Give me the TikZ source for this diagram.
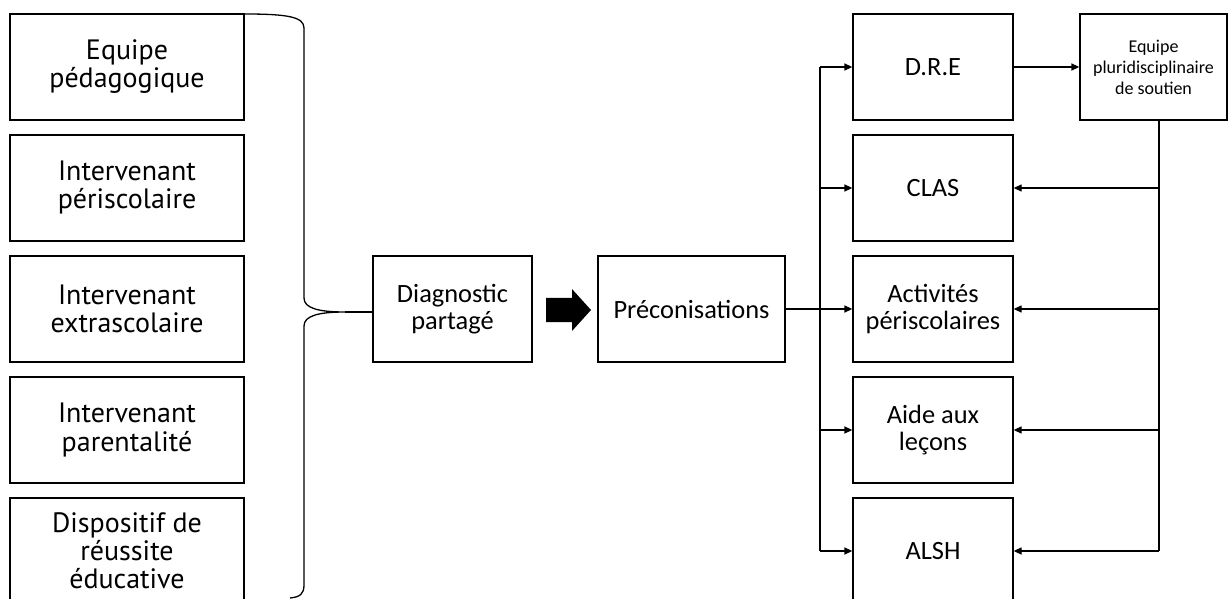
\documentclass[tikz,border=0pt]{standalone}
\usepackage{fontspec}
\setmainfont{Carlito}
\newfontfamily\leftfont{PT Sans}
\usetikzlibrary{arrows.meta}

\begin{document}
\begin{tikzpicture}[x=0.5pt,y=-0.5pt,
		line width=0.65pt,
		acteur/.style={draw, align=center, minimum width=117pt, minimum height=53pt,
			inner sep=0pt, font=\leftfont\fontsize{14}{14}\selectfont},
		etape/.style={draw, align=center, minimum height=53pt, inner sep=0pt,
			font=\fontsize{13.2}{13.5}\selectfont},
		action/.style={etape, minimum width=80pt},
		fleche/.style={-{Triangle[length=4pt,width=3.5pt]}}]
	\useasboundingbox (0,0) rectangle (1228,599);

	% acteurs
	\node[acteur] (equipe)     at (127,67)  {Equipe\\pédagogique};
	\node[acteur] (peri)       at (127,188) {Intervenant\\périscolaire};
	\node[acteur] (extra)      at (127,309) {Intervenant\\extrascolaire};
	\node[acteur] (parent)     at (127,430) {Intervenant\\parentalité};
	\node[acteur] (dispositif) at (127,551) {Dispositif de\\réussite\\éducative};

	% diagnostic et preconisations
	\node[etape, minimum width=79.5pt] (diag)   at (452.5,309) {Diagnostic\\partagé};
	\fill	(546,298) -- (572,298) -- (572,289) -- (591,310)
			-- (572,331) -- (572,322) -- (546,322) -- cycle;
	\node[etape, minimum width=93.5pt] (precon) at (691.5,309) {Préconisations};

	% accolade
	\coordinate (pointe) at (345,312);
	\draw	(245,14) .. controls (288,14) and (304,17) .. (304,28)
			-- (304,298) .. controls (304,308) and (318,312) .. (pointe)
			.. controls (318,312) and (304,316) .. (304,326)
			-- (304,585) .. controls (304,594) and (300,597) .. (290,598);
	\draw (pointe) -- (pointe -| diag.west);

	% actions
	\node[action] (dre)       at (933,67)  {D.R.E};
	\node[action] (clas)      at (933,188) {CLAS};
	\node[action] (activites) at (933,309) {Activités\\périscolaires};
	\node[action] (aide)      at (933,430) {Aide aux\\leçons};
	\node[action] (alsh)      at (933,551) {ALSH};

	\node[draw, align=center, minimum width=73.5pt, minimum height=53pt, inner sep=0pt,
		font=\fontsize{9}{10.5}\selectfont] (pluri) at (1153.5,67)
		{Equipe\\pluridisciplinaire\\de soutien};

	% vers les actions
	\coordinate (tronc) at (820,309);
	\draw (precon.east) -- (tronc);
	\draw (tronc |- dre.west) -- (tronc |- alsh.west);
	\foreach \n in {dre,clas,activites,aide,alsh}
		\draw[fleche] (tronc |- \n.west) -- (\n.west);

	% soutien
	\draw[fleche] (dre.east) -- (pluri.west);
	\coordinate (retour) at ([xshift=2.75pt]pluri.south);
	\draw (retour) -- (retour |- alsh.east);
	\foreach \n in {clas,activites,aide,alsh}
		\draw[fleche] (retour |- \n.east) -- (\n.east);
\end{tikzpicture}
\end{document}
